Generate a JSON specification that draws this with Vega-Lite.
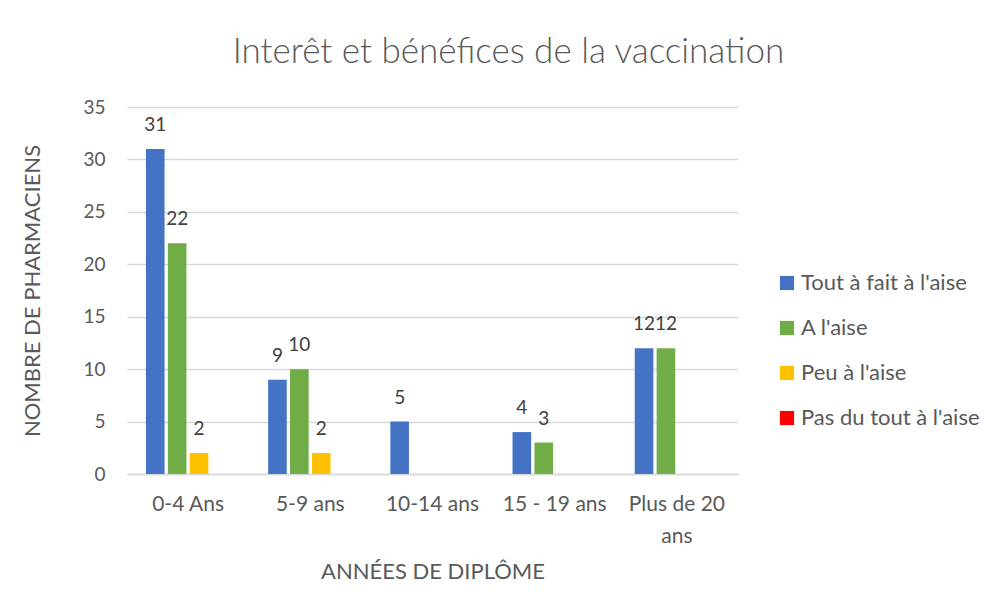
{
  "$schema": "https://vega.github.io/schema/vega-lite/v6.json",
  "autosize": {"type": "none"},
  "width": 611,
  "height": 367,
  "padding": {"left": 127, "top": 107, "right": 257, "bottom": 142},
  "background": "white",
  "config": {"view": {"stroke": null}},
  "title": {
    "text": "Interêt et bénéfices de la vaccination",
    "anchor": "middle",
    "frame": "group",
    "dx": 76,
    "offset": 28,
    "fontSize": 35,
    "font": "Lato",
    "fontWeight": 300,
    "color": "#595959"
  },
  "data": {
    "values": [
      {"annee": "0-4 Ans", "niveau": "Tout à fait à l'aise", "n": 31},
      {"annee": "0-4 Ans", "niveau": "A l'aise", "n": 22},
      {"annee": "0-4 Ans", "niveau": "Peu à l'aise", "n": 2},
      {"annee": "0-4 Ans", "niveau": "Pas du tout à l'aise", "n": 0},
      {"annee": "5-9 ans", "niveau": "Tout à fait à l'aise", "n": 9},
      {"annee": "5-9 ans", "niveau": "A l'aise", "n": 10},
      {"annee": "5-9 ans", "niveau": "Peu à l'aise", "n": 2},
      {"annee": "5-9 ans", "niveau": "Pas du tout à l'aise", "n": 0},
      {"annee": "10-14 ans", "niveau": "Tout à fait à l'aise", "n": 5},
      {"annee": "10-14 ans", "niveau": "A l'aise", "n": 0},
      {"annee": "10-14 ans", "niveau": "Peu à l'aise", "n": 0},
      {"annee": "10-14 ans", "niveau": "Pas du tout à l'aise", "n": 0},
      {"annee": "15 - 19 ans", "niveau": "Tout à fait à l'aise", "n": 4},
      {"annee": "15 - 19 ans", "niveau": "A l'aise", "n": 3},
      {"annee": "15 - 19 ans", "niveau": "Peu à l'aise", "n": 0},
      {"annee": "15 - 19 ans", "niveau": "Pas du tout à l'aise", "n": 0},
      {"annee": "Plus de 20 ans", "niveau": "Tout à fait à l'aise", "n": 12},
      {"annee": "Plus de 20 ans", "niveau": "A l'aise", "n": 12},
      {"annee": "Plus de 20 ans", "niveau": "Peu à l'aise", "n": 0},
      {"annee": "Plus de 20 ans", "niveau": "Pas du tout à l'aise", "n": 0}
    ]
  },
  "encoding": {
    "x": {
      "field": "annee",
      "type": "nominal",
      "sort": null,
      "scale": {"paddingInner": 0.31, "paddingOuter": 0.155},
      "axis": {
        "title": "ANNÉES DE DIPLÔME",
        "labelAngle": 0,
        "ticks": false,
        "domainColor": "#d9d9d9",
        "domainWidth": 1.5,
        "labelPadding": 19,
        "labelFontSize": 21,
        "labelFont": "Lato",
        "labelColor": "#595959",
        "labelLineHeight": 32,
        "labelExpr": "datum.value == 'Plus de 20 ans' ? ['Plus de 20', 'ans'] : datum.value",
        "titleFont": "Lato",
        "titleFontSize": 22,
        "titleFontWeight": "normal",
        "titleColor": "#595959",
        "titlePadding": 15
      }
    },
    "xOffset": {
      "field": "niveau",
      "type": "nominal",
      "sort": ["Tout à fait à l'aise", "A l'aise", "Peu à l'aise", "Pas du tout à l'aise"],
      "scale": {"paddingInner": 0.15, "paddingOuter": 0}
    },
    "y": {
      "field": "n",
      "type": "quantitative",
      "scale": {"domain": [0, 35]},
      "axis": {
        "title": "NOMBRE DE PHARMACIENS",
        "values": [0, 5, 10, 15, 20, 25, 30, 35],
        "ticks": false,
        "domain": false,
        "gridColor": "#d9d9d9",
        "gridWidth": 1.5,
        "labelPadding": 22,
        "labelFontSize": 19,
        "labelFont": "Lato",
        "labelColor": "#595959",
        "titleFont": "Lato",
        "titleFontSize": 22,
        "titleFontWeight": "normal",
        "titleColor": "#595959",
        "titlePadding": 38
      }
    }
  },
  "layer": [
    {
      "mark": {"type": "bar"},
      "encoding": {
        "color": {
          "field": "niveau",
          "type": "nominal",
          "sort": ["Tout à fait à l'aise", "A l'aise", "Peu à l'aise", "Pas du tout à l'aise"],
          "scale": {
            "domain": ["Tout à fait à l'aise", "A l'aise", "Peu à l'aise", "Pas du tout à l'aise"],
            "range": ["#4472C4", "#70AD47", "#FFC000", "#FF0000"]
          },
          "legend": {
            "title": null,
            "orient": "none",
            "legendX": 649,
            "legendY": 165,
            "symbolType": "square",
            "symbolSize": 200,
            "symbolStrokeWidth": 0,
            "labelFont": "Lato",
            "labelFontSize": 22,
            "labelColor": "#595959",
            "labelOffset": 3,
            "labelLimit": 400,
            "rowPadding": 23
          }
        }
      }
    },
    {
      "transform": [{"filter": "datum.n > 0"}],
      "mark": {
        "type": "text",
        "baseline": "bottom",
        "dy": -14,
        "font": "Lato",
        "fontSize": 19,
        "color": "#404040"
      },
      "encoding": {
        "text": {"field": "n", "type": "quantitative"}
      }
    }
  ]
}
